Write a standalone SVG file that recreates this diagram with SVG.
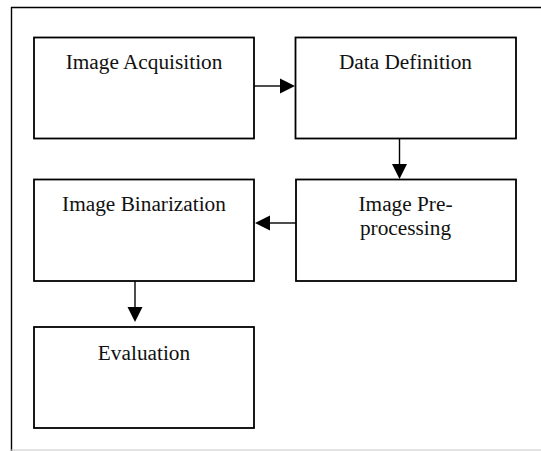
<svg xmlns="http://www.w3.org/2000/svg" width="541" height="451" viewBox="0 0 541 451">
<style>
.box{fill:#fff;stroke:#000;stroke-width:1.8}
.lbl{font-family:"Liberation Serif","Times New Roman",serif;font-size:21.3px;fill:#111;text-anchor:middle}
.con{stroke:#000;stroke-width:1.4;fill:none}
.head{fill:#000}
</style>
<rect x="0" y="0" width="541" height="451" fill="#fff"/>
<g id="frame">
<path d="M11.5 451 V7.5 H541" fill="none" stroke="#000" stroke-width="1.4"/>
<line x1="11" y1="450" x2="541" y2="450" stroke="#c8c8c8" stroke-width="1"/>
</g>
<g id="acquisition">
<rect class="box" x="34" y="37.5" width="220" height="101"/>
<text class="lbl" x="144" y="69">Image Acquisition</text>
</g>
<g id="definition">
<rect class="box" x="295.5" y="37.5" width="220.5" height="101"/>
<text class="lbl" x="405.5" y="69">Data Definition</text>
</g>
<g id="preprocessing">
<rect class="box" x="296" y="179.5" width="220" height="101.5"/>
<text class="lbl" x="405.5" y="211">Image Pre-</text>
<text class="lbl" x="405.5" y="234.5">processing</text>
</g>
<g id="binarization">
<rect class="box" x="34" y="179.5" width="220" height="101.5"/>
<text class="lbl" x="144" y="211">Image Binarization</text>
</g>
<g id="evaluation">
<rect class="box" x="34" y="327" width="220" height="101"/>
<text class="lbl" x="144" y="359.5">Evaluation</text>
</g>
<g id="connectors">
<line class="con" x1="254" y1="86" x2="281" y2="86"/>
<polygon class="head" points="295,86 280,78.5 280,93.5"/>
<line class="con" x1="399.5" y1="138.5" x2="399.5" y2="165"/>
<polygon class="head" points="399.5,179 392,164 407,164"/>
<line class="con" x1="296" y1="223" x2="269" y2="223"/>
<polygon class="head" points="255,223 270,215.5 270,230.5"/>
<line class="con" x1="135" y1="281" x2="135" y2="308"/>
<polygon class="head" points="135,322 127.5,307 142.5,307"/>
</g>
</svg>
